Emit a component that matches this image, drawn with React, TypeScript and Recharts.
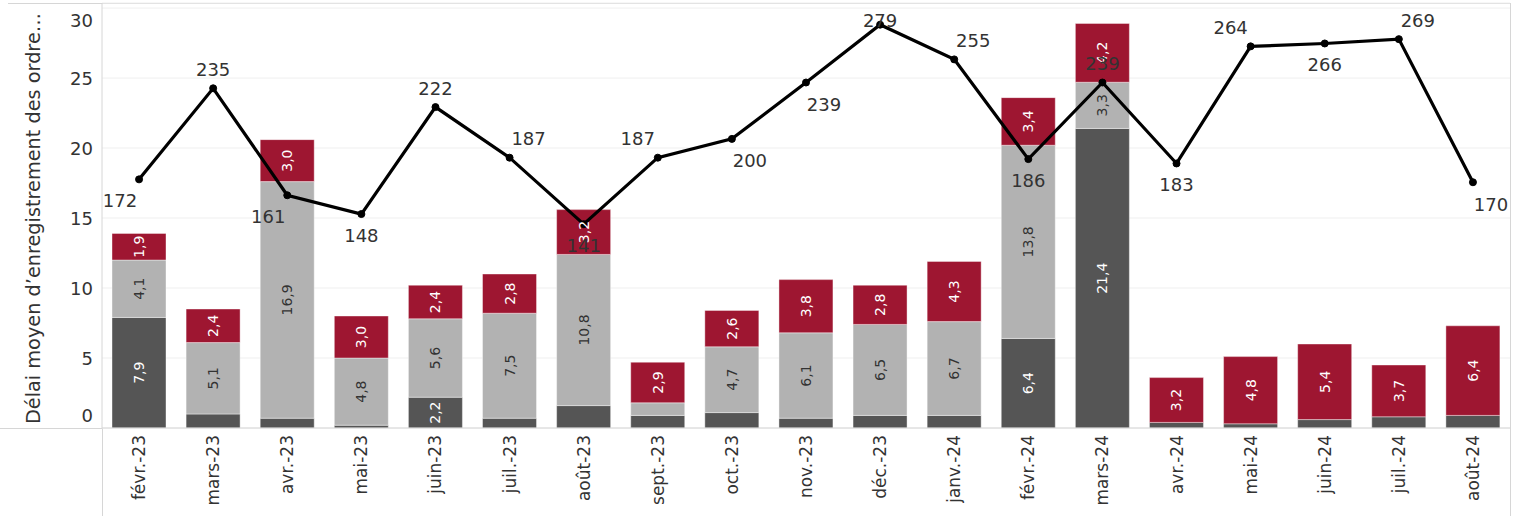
import React from 'react';
import { ComposedChart, Bar, Line, XAxis, YAxis, CartesianGrid, LabelList } from 'recharts';

const months = ['févr.-23', 'mars-23', 'avr.-23', 'mai-23', 'juin-23', 'juil.-23', 'août-23', 'sept.-23', 'oct.-23', 'nov.-23', 'déc.-23', 'janv.-24', 'févr.-24', 'mars-24', 'avr.-24', 'mai-24', 'juin-24', 'juil.-24', 'août-24'];
const darkValues = [7.9, 1.0, 0.7, 0.2, 2.2, 0.7, 1.6, 0.9, 1.1, 0.7, 0.9, 0.9, 6.4, 21.4, 0.4, 0.3, 0.6, 0.8, 0.9];
const lightValues = [4.1, 5.1, 16.9, 4.8, 5.6, 7.5, 10.8, 0.9, 4.7, 6.1, 6.5, 6.7, 13.8, 3.3, 0, 0, 0, 0, 0];
const redValues = [1.9, 2.4, 3.0, 3.0, 2.4, 2.8, 3.2, 2.9, 2.6, 3.8, 2.8, 4.3, 3.4, 4.2, 3.2, 4.8, 5.4, 3.7, 6.4];
const lineValues = [172, 235, 161, 148, 222, 187, 141, 187, 200, 239, 279, 255, 186, 239, 183, 264, 266, 269, 170];
const lineLabelPlacement = ['bl', 'a', 'bl', 'b', 'a', 'ar', 'b', 'al', 'br', 'br', 'a', 'ar', 'b', 'a', 'b', 'al', 'b', 'ar', 'br'];
const leftTicks = [0, 5, 10, 15, 20, 25, 30];
const yAxisTitle = 'Délai moyen d’enregistrement des ordre…';

const data = months.map((m, i) => ({
  month: m,
  dark: darkValues[i],
  light: lightValues[i],
  red: redValues[i],
  avg: lineValues[i],
}));

const FONT = '"DejaVu Sans", sans-serif';
const TEXT = '#333333';
const DARK = '#555555';
const LIGHT = '#b2b2b2';
const RED = '#9e1631';
const FRAME = '#d6d6d6';

const fmt = (v: number) => v.toFixed(1).replace('.', ',');

const makeBarLabel = (color: string) => (props: any) => {
  const { x, y, width, height, value } = props;
  if (value == null || Math.abs(height) < 24) return null;
  const cx = Number(x) + Number(width) / 2;
  const cy = Number(y) + Number(height) / 2;
  return (
    <text
      x={cx}
      y={cy}
      transform={`rotate(-90, ${cx}, ${cy})`}
      textAnchor="middle"
      dominantBaseline="central"
      fontFamily={FONT}
      fontSize={14}
      fill={color}
    >
      {fmt(Number(value))}
    </text>
  );
};

const placementOffsets: Record<string, [number, number]> = {
  a: [0, -19],
  b: [0, 21],
  al: [-20, -19],
  ar: [19, -19],
  bl: [-19, 21],
  br: [18, 22],
};

const LineLabel = (props: any) => {
  const { x, y, value, index } = props;
  const [dx, dy] = placementOffsets[lineLabelPlacement[index]] || [0, -19];
  const ly = Math.max(Number(y) + dy, 20);
  return (
    <text
      x={Number(x) + dx}
      y={ly}
      textAnchor="middle"
      dominantBaseline="central"
      fontFamily={FONT}
      fontSize={18}
      fill={TEXT}
    >
      {value}
    </text>
  );
};

const XTick = (props: any) => {
  const { x, y, payload } = props;
  const ty = Number(y) - 1;
  return (
    <text
      x={x}
      y={ty}
      transform={`rotate(-90, ${x}, ${ty})`}
      textAnchor="end"
      dominantBaseline="central"
      fontFamily={FONT}
      fontSize={17}
      fill={TEXT}
    >
      {payload.value}
    </text>
  );
};

const YTick = (props: any) => {
  const { x, y, payload } = props;
  let ty = Number(y);
  if (payload.value === 0) ty -= 13;
  if (payload.value === 30) ty += 11;
  return (
    <text
      x={Number(x)}
      y={ty}
      textAnchor="end"
      dominantBaseline="central"
      fontFamily={FONT}
      fontSize={18}
      fill={TEXT}
    >
      {payload.value}
    </text>
  );
};

const YTitle = (props: any) => {
  const vb = props.viewBox || {};
  const cy = Number(vb.y) + Number(vb.height) / 2 + 3;
  const cx = 33;
  return (
    <text
      x={cx}
      y={cy}
      transform={`rotate(-90, ${cx}, ${cy})`}
      textAnchor="middle"
      dominantBaseline="central"
      fontFamily={FONT}
      fontSize={19.3}
      fill={TEXT}
    >
      {yAxisTitle}
    </text>
  );
};

export default function App() {
  return (
    <div style={{ position: 'absolute', left: 0, top: 0, width: 1515, height: 516, background: '#fff' }}>
      <div style={{ position: 'absolute', left: 8, top: 3, width: 1502, height: 513, borderTop: `1px solid ${FRAME}`, borderRight: `1px solid ${FRAME}` }} />
      <div style={{ position: 'absolute', left: 0, top: 428, width: 103, height: 1, background: FRAME }} />
      <div style={{ position: 'absolute', left: 102, top: 428, width: 1, height: 88, background: FRAME }} />
      <div style={{ position: 'absolute', left: 0, top: 0 }}>
        <ComposedChart
          width={1515}
          height={516}
          data={data}
          margin={{ top: 3, right: 5, bottom: 0, left: 0 }}
          barSize={54}
        >
          <CartesianGrid yAxisId="left" vertical={false} stroke="#efefef" />
          <XAxis
            dataKey="month"
            height={88}
            tick={<XTick />}
            tickLine={false}
            axisLine={{ stroke: FRAME }}
            interval={0}
          />
          <YAxis
            yAxisId="left"
            width={102}
            domain={[0, 30.36]}
            ticks={leftTicks}
            tick={<YTick />}
            tickLine={false}
            tickSize={0}
            tickMargin={9}
            axisLine={{ stroke: FRAME }}
            allowDataOverflow
            label={<YTitle />}
          />
          <YAxis yAxisId="right" orientation="right" hide domain={[0, 294]} allowDataOverflow />
          <Bar yAxisId="left" dataKey="dark" stackId="s" fill={DARK} stroke="#ffffff" strokeOpacity={0.5} strokeWidth={0.8} isAnimationActive={false}>
            <LabelList dataKey="dark" content={makeBarLabel('#ffffff')} />
          </Bar>
          <Bar yAxisId="left" dataKey="light" stackId="s" fill={LIGHT} stroke="#ffffff" strokeOpacity={0.5} strokeWidth={0.8} isAnimationActive={false}>
            <LabelList dataKey="light" content={makeBarLabel('#333333')} />
          </Bar>
          <Bar yAxisId="left" dataKey="red" stackId="s" fill={RED} stroke="#ffffff" strokeOpacity={0.5} strokeWidth={0.8} isAnimationActive={false}>
            <LabelList dataKey="red" content={makeBarLabel('#ffffff')} />
          </Bar>
          <Line
            yAxisId="right"
            type="linear"
            dataKey="avg"
            stroke="#000000"
            strokeWidth={3.2}
            dot={{ r: 3.5, fill: '#000000', stroke: '#000000', strokeWidth: 1 }}
            isAnimationActive={false}
          >
            <LabelList dataKey="avg" content={<LineLabel />} />
          </Line>
        </ComposedChart>
      </div>
    </div>
  );
}
